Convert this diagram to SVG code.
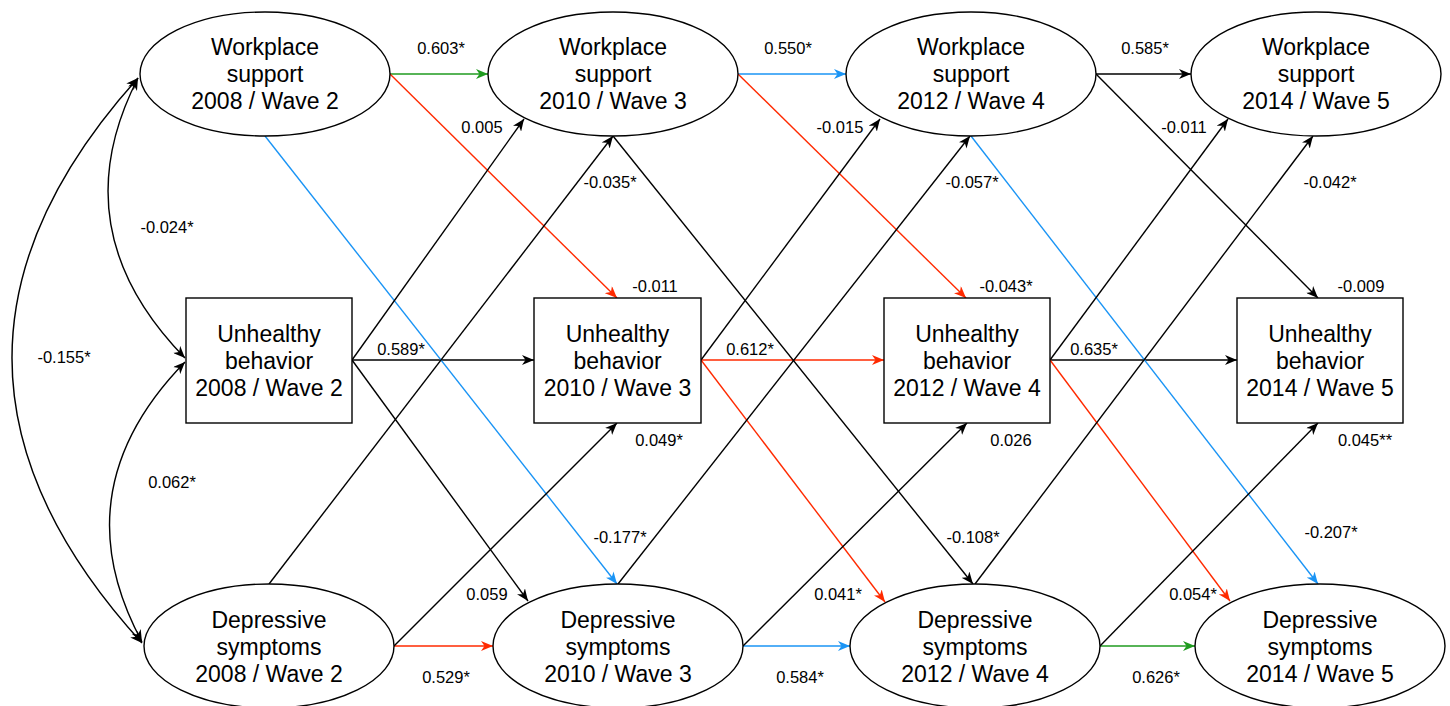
<svg xmlns="http://www.w3.org/2000/svg" width="1450" height="706" viewBox="0 0 1450 706">
<style>
.node{fill:#fff;stroke:#000;stroke-width:1.4}
.nt{font-family:"Liberation Sans",Arial,sans-serif;font-size:23px;fill:#000;text-anchor:middle}
.lbl{font-family:"Liberation Sans",Arial,sans-serif;font-size:16.5px;fill:#000;text-anchor:middle}
.e{fill:none;stroke-width:1.4}
.k{stroke:#000;marker-end:url(#ak)}
.r{stroke:#ff2a00;marker-end:url(#ar)}
.g{stroke:#1f9b1f;marker-end:url(#ag)}
.b{stroke:#1a94f5;marker-end:url(#ab)}
.cov{stroke:#000;marker-start:url(#ak);marker-end:url(#ak)}
</style>
<defs>
<marker id="ak" viewBox="0 0 12 10" refX="12" refY="5" markerWidth="12" markerHeight="10" orient="auto-start-reverse" markerUnits="userSpaceOnUse"><path d="M0,0 L12,5 L0,10 L3.5,5 z" fill="#000"/></marker>
<marker id="ar" viewBox="0 0 12 10" refX="12" refY="5" markerWidth="12" markerHeight="10" orient="auto" markerUnits="userSpaceOnUse"><path d="M0,0 L12,5 L0,10 L3.5,5 z" fill="#ff2a00"/></marker>
<marker id="ag" viewBox="0 0 12 10" refX="12" refY="5" markerWidth="12" markerHeight="10" orient="auto" markerUnits="userSpaceOnUse"><path d="M0,0 L12,5 L0,10 L3.5,5 z" fill="#1f9b1f"/></marker>
<marker id="ab" viewBox="0 0 12 10" refX="12" refY="5" markerWidth="12" markerHeight="10" orient="auto" markerUnits="userSpaceOnUse"><path d="M0,0 L12,5 L0,10 L3.5,5 z" fill="#1a94f5"/></marker>
</defs>
<rect width="1450" height="706" fill="#fff"/>

<g id="connectors">
<!-- covariances -->
<path class="e cov" d="M138,78 Q-116,360 142,643"/>
<path class="e cov" d="M138,78 Q60,230 185,358"/>
<path class="e cov" d="M185,362 Q60,490 142,642"/>
<!-- autoregressive -->
<line class="e g" x1="390" y1="74" x2="488" y2="74"/>
<line class="e b" x1="738" y1="74" x2="846" y2="74"/>
<line class="e k" x1="1096" y1="74" x2="1191" y2="74"/>
<line class="e k" x1="352" y1="360" x2="534" y2="360"/>
<line class="e r" x1="701" y1="360" x2="884" y2="360"/>
<line class="e k" x1="1050" y1="360" x2="1237" y2="360"/>
<line class="e r" x1="394" y1="646" x2="493" y2="646"/>
<line class="e b" x1="743" y1="646" x2="850" y2="646"/>
<line class="e g" x1="1100" y1="646" x2="1195" y2="646"/>
<!-- cross-lagged -->
<line class="e r" x1="390" y1="74" x2="617" y2="298"/>
<line class="e b" x1="265" y1="136" x2="617" y2="584"/>
<line class="e k" x1="352" y1="360" x2="524" y2="119"/>
<line class="e k" x1="352" y1="360" x2="528" y2="601"/>
<line class="e k" x1="269" y1="584" x2="613" y2="136"/>
<line class="e k" x1="394" y1="646" x2="617" y2="423"/>
<line class="e k" x1="613" y1="136" x2="973" y2="584"/>
<line class="e r" x1="738" y1="74" x2="966" y2="298"/>
<line class="e k" x1="701" y1="360" x2="880" y2="119"/>
<line class="e r" x1="701" y1="360" x2="885" y2="602"/>
<line class="e k" x1="618" y1="584" x2="970" y2="136"/>
<line class="e k" x1="743" y1="646" x2="967" y2="423"/>
<line class="e b" x1="971" y1="136" x2="1318" y2="584"/>
<line class="e k" x1="1096" y1="74" x2="1318" y2="298"/>
<line class="e k" x1="1050" y1="360" x2="1228" y2="119"/>
<line class="e r" x1="1050" y1="360" x2="1230" y2="601"/>
<line class="e k" x1="975" y1="584" x2="1313" y2="136"/>
<line class="e k" x1="1100" y1="646" x2="1318" y2="423"/>
</g>

<g id="labels">
<text class="lbl" x="441" y="54">0.603*</text>
<text class="lbl" x="788" y="54">0.550*</text>
<text class="lbl" x="1145" y="54">0.585*</text>
<text class="lbl" x="482" y="133">0.005</text>
<text class="lbl" x="610" y="188">-0.035*</text>
<text class="lbl" x="840" y="133">-0.015</text>
<text class="lbl" x="972" y="188">-0.057*</text>
<text class="lbl" x="1184" y="133">-0.011</text>
<text class="lbl" x="1330" y="188">-0.042*</text>
<text class="lbl" x="167" y="233">-0.024*</text>
<text class="lbl" x="64" y="363">-0.155*</text>
<text class="lbl" x="172" y="488">0.062*</text>
<text class="lbl" x="655" y="292">-0.011</text>
<text class="lbl" x="1006" y="292">-0.043*</text>
<text class="lbl" x="1361" y="292">-0.009</text>
<text class="lbl" x="401" y="355">0.589*</text>
<text class="lbl" x="750" y="355">0.612*</text>
<text class="lbl" x="1094" y="355">0.635*</text>
<text class="lbl" x="659" y="446">0.049*</text>
<text class="lbl" x="1011" y="446">0.026</text>
<text class="lbl" x="1365" y="446">0.045**</text>
<text class="lbl" x="620" y="543">-0.177*</text>
<text class="lbl" x="973" y="543">-0.108*</text>
<text class="lbl" x="1331" y="538">-0.207*</text>
<text class="lbl" x="487" y="600">0.059</text>
<text class="lbl" x="838" y="600">0.041*</text>
<text class="lbl" x="1193" y="600">0.054*</text>
<text class="lbl" x="446" y="683">0.529*</text>
<text class="lbl" x="800" y="683">0.584*</text>
<text class="lbl" x="1156" y="683">0.626*</text>
</g>

<g id="ws2008"><ellipse class="node" cx="265" cy="74" rx="125" ry="62"/><text class="nt" x="265" y="55">Workplace</text><text class="nt" x="265" y="82">support</text><text class="nt" x="265" y="109">2008 / Wave 2</text></g>
<g id="ws2010"><ellipse class="node" cx="613" cy="74" rx="125" ry="62"/><text class="nt" x="613" y="55">Workplace</text><text class="nt" x="613" y="82">support</text><text class="nt" x="613" y="109">2010 / Wave 3</text></g>
<g id="ws2012"><ellipse class="node" cx="971" cy="74" rx="125" ry="62"/><text class="nt" x="971" y="55">Workplace</text><text class="nt" x="971" y="82">support</text><text class="nt" x="971" y="109">2012 / Wave 4</text></g>
<g id="ws2014"><ellipse class="node" cx="1316" cy="74" rx="125" ry="62"/><text class="nt" x="1316" y="55">Workplace</text><text class="nt" x="1316" y="82">support</text><text class="nt" x="1316" y="109">2014 / Wave 5</text></g>

<g id="ub2008"><rect class="node" x="186" y="298" width="166" height="125"/><text class="nt" x="269" y="342">Unhealthy</text><text class="nt" x="269" y="369">behavior</text><text class="nt" x="269" y="396">2008 / Wave 2</text></g>
<g id="ub2010"><rect class="node" x="534" y="298" width="167" height="125"/><text class="nt" x="617.5" y="342">Unhealthy</text><text class="nt" x="617.5" y="369">behavior</text><text class="nt" x="617.5" y="396">2010 / Wave 3</text></g>
<g id="ub2012"><rect class="node" x="884" y="298" width="166" height="125"/><text class="nt" x="967" y="342">Unhealthy</text><text class="nt" x="967" y="369">behavior</text><text class="nt" x="967" y="396">2012 / Wave 4</text></g>
<g id="ub2014"><rect class="node" x="1237" y="298" width="166" height="125"/><text class="nt" x="1320" y="342">Unhealthy</text><text class="nt" x="1320" y="369">behavior</text><text class="nt" x="1320" y="396">2014 / Wave 5</text></g>

<g id="ds2008"><ellipse class="node" cx="269" cy="646" rx="125" ry="62"/><text class="nt" x="269" y="628">Depressive</text><text class="nt" x="269" y="655">symptoms</text><text class="nt" x="269" y="682">2008 / Wave 2</text></g>
<g id="ds2010"><ellipse class="node" cx="618" cy="646" rx="125" ry="62"/><text class="nt" x="618" y="628">Depressive</text><text class="nt" x="618" y="655">symptoms</text><text class="nt" x="618" y="682">2010 / Wave 3</text></g>
<g id="ds2012"><ellipse class="node" cx="975" cy="646" rx="125" ry="62"/><text class="nt" x="975" y="628">Depressive</text><text class="nt" x="975" y="655">symptoms</text><text class="nt" x="975" y="682">2012 / Wave 4</text></g>
<g id="ds2014"><ellipse class="node" cx="1320" cy="646" rx="125" ry="62"/><text class="nt" x="1320" y="628">Depressive</text><text class="nt" x="1320" y="655">symptoms</text><text class="nt" x="1320" y="682">2014 / Wave 5</text></g>
</svg>
